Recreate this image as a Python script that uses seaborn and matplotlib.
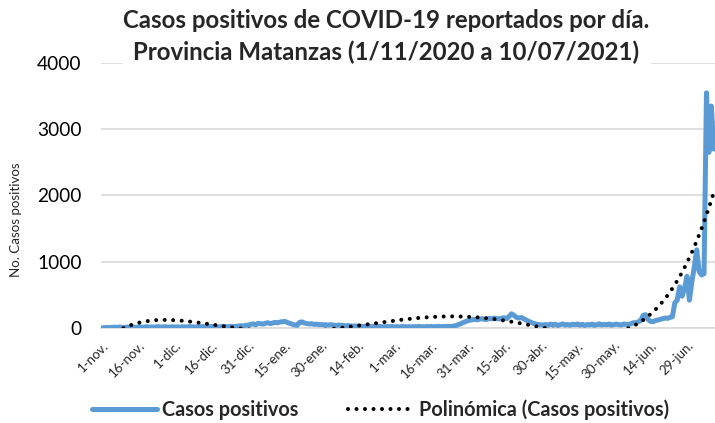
import numpy as np
import pandas as pd
import matplotlib
matplotlib.use("Agg")
import matplotlib.pyplot as plt
import seaborn as sns

# daily positive cases, Matanzas, 1 Nov 2020 - 10 Jul 2021
nov = [3, 6, 8, 5, 10, 12, 9, 14, 11, 8, 13, 15, 10, 12, 9, 16, 14, 11, 18, 13,
       15, 12, 17, 20, 14, 16, 19, 13, 15, 18]
dec = [14, 17, 12, 19, 15, 18, 21, 16, 13, 20, 17, 22, 18, 15, 19, 23, 17, 20, 16, 22,
       25, 19, 21, 26, 18, 24, 30, 35, 28, 40, 45]
jan = [55, 62, 48, 70, 65, 58, 72, 80, 66, 75, 85, 78, 90, 95, 100, 82, 70, 58, 45, 40,
       85, 92, 75, 68, 60, 64, 55, 58, 50, 52, 47]
feb = [48, 44, 50, 42, 38, 45, 40, 36, 33, 38, 30, 28, 32, 25, 27, 22, 26, 20, 24, 18,
       22, 19, 23, 17, 20, 21, 18, 22]
mar = [18, 20, 16, 22, 19, 17, 21, 15, 20, 18, 23, 19, 17, 22, 20, 24, 18, 21, 25, 19,
       23, 20, 26, 22, 28, 35, 48, 62, 80, 95, 110]
apr = [118, 125, 130, 122, 135, 140, 128, 132, 145, 138, 150, 142, 136, 148, 155, 140,
       175, 215, 190, 160, 150, 158, 140, 120, 100, 85, 70, 60, 52, 48]
may = [45, 52, 40, 58, 47, 55, 38, 50, 62, 44, 53, 41, 57, 49, 60, 43, 55, 38, 52, 46,
       58, 40, 50, 63, 45, 55, 48, 60, 42, 52, 58]
jun = [50, 45, 60, 55, 48, 65, 80, 75, 95, 110, 190, 200, 130, 100, 95, 110, 120, 130,
       140, 150, 145, 160, 170, 380, 420, 620, 480, 600, 780, 420]
jul = [700, 920, 1180, 850, 800, 820, 3550, 2650, 3350, 2700]

tick_labels = ["1-nov.", "16-nov.", "1-dic.", "16-dic.", "31-dic.", "15-ene.", "30-ene.",
               "14-feb.", "1-mar.", "16-mar.", "31-mar.", "15-abr.", "30-abr.", "15-may.",
               "30-may.", "14-jun.", "29-jun."]

cases = nov + dec + jan + feb + mar + apr + may + jun + jul
df = pd.DataFrame({"dia": np.arange(len(cases)), "casos": cases})

# polynomial trendline like Excel's, on x = 1..N
coef = np.polyfit(df["dia"] + 1, df["casos"], 5)
df["tendencia"] = np.polyval(coef, df["dia"] + 1)

sns.set_style("white")
plt.rcParams["font.family"] = ["Lato", "DejaVu Sans"]

fig = plt.figure(figsize=(7.15, 4.23), dpi=100)
ax = fig.add_axes([0.1413, 0.2246, 0.8587, 0.6265])

blue = "#5B9BD5"
sns.lineplot(data=df, x="dia", y="casos", ax=ax, color=blue, linewidth=3.6,
             solid_joinstyle="round", solid_capstyle="round",
             label="Casos positivos", legend=False, zorder=3)
ax.plot(df["dia"], df["tendencia"], color="black", linewidth=2.9,
        linestyle=(0, (0.01, 2.1)), dash_capstyle="round",
        label="Polinómica (Casos positivos)", zorder=4)

ax.set_xlim(-0.5, len(cases) - 0.5)
ax.set_ylim(0, 4000)
ax.set_yticks([0, 1000, 2000, 3000, 4000])
ax.yaxis.grid(True, color="#D9D9D9", linewidth=1.2)
ax.set_axisbelow(True)
ax.tick_params(axis="y", labelsize=13.8, length=0, pad=14, colors="black")

pos = np.arange(len(tick_labels)) * 15
ax.set_xticks(pos)
ax.set_xticklabels(tick_labels, rotation=45, ha="right", rotation_mode="anchor",
                   fontsize=9.5)
ax.tick_params(axis="x", length=5, width=1, color="#D9D9D9", pad=3)

for s in ["top", "right", "left"]:
    ax.spines[s].set_visible(False)
ax.spines["bottom"].set_color("#D9D9D9")
ax.spines["bottom"].set_linewidth(1.2)

ax.set_xlabel("")
ax.set_ylabel("No. Casos positivos", fontsize=9.6)
ax.yaxis.set_label_coords(-0.128, 0.41)

fig.text(0.54, 0.978, "Casos positivos de COVID-19 reportados por día.\n"
         "Provincia Matanzas (1/11/2020 a 10/07/2021)",
         ha="center", va="top", fontsize=17.3, fontweight="bold", linespacing=1.42,
         bbox=dict(facecolor="white", edgecolor="none", pad=1), zorder=10)

leg = fig.legend(loc="lower center", bbox_to_anchor=(0.532, -0.035), ncol=2, frameon=False,
                 handlelength=3.3, columnspacing=2.5, handletextpad=0.25,
                 prop={"weight": "bold", "size": 14.3})

fig.savefig("out.png", dpi=100)
